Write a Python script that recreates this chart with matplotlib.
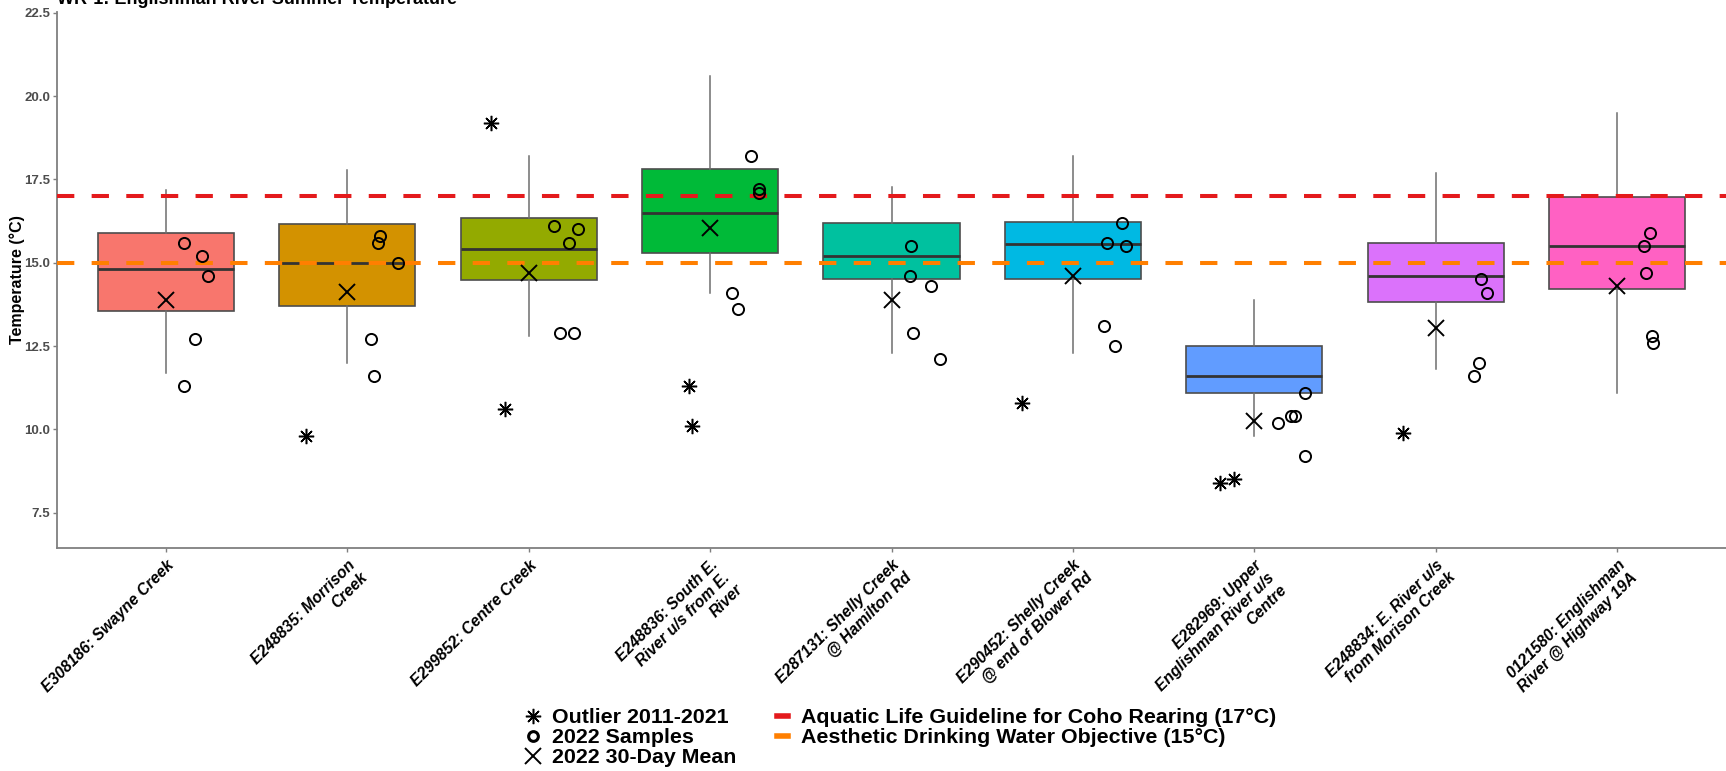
import numpy as np
import matplotlib
import matplotlib.pyplot as plt
from matplotlib.lines import Line2D
matplotlib.use('agg')

plt.rcParams['font.family'] = ['Liberation Sans', 'DejaVu Sans']

# Site labels (x categories)
sites = [
    "E308186: Swayne Creek",
    "E248835: Morrison\nCreek",
    "E299852: Centre Creek",
    "E248836: South E.\nRiver u/s from E.\nRiver",
    "E287131: Shelly Creek\n@ Hamilton Rd",
    "E290452: Shelly Creek\n@ end of Blower Rd",
    "E282969: Upper\nEnglishman River u/s\nCentre",
    "E248834: E. River u/s\nfrom Morison Creek",
    "0121580: Englishman\nRiver @ Highway 19A",
]
box_colors = ["#F8766D", "#D39200", "#93AA00", "#00BA38", "#00C19F",
              "#00B9E3", "#619CFF", "#DB72FB", "#FF61C3"]

# 2011-2021 box statistics
whis_lo = [11.7, 12.0, 12.8, 14.1, 12.3, 12.3, 9.8, 11.8, 11.1]
q1 = [13.55, 13.7, 14.47, 15.3, 14.5, 14.5, 11.1, 13.83, 14.2]
median = [14.8, 15.0, 15.4, 16.5, 15.2, 15.55, 11.6, 14.6, 15.5]
q3 = [15.88, 16.15, 16.35, 17.8, 16.2, 16.23, 12.5, 15.6, 16.98]
whis_hi = [17.18, 17.78, 18.2, 20.6, 17.28, 18.2, 13.88, 17.68, 19.5]

# outliers 2011-2021 and their horizontal jitter
outliers = [[], [9.8], [10.6, 19.2], [11.3, 10.1], [], [10.8], [8.4, 8.5], [9.9], []]
outlier_jitter = [[], [-0.23], [-0.13, -0.21], [-0.115, -0.10], [], [-0.28],
                  [-0.19, -0.11], [-0.18], []]

# 2022 samples and their horizontal jitter
samples = [
    [15.6, 15.2, 14.6, 12.7, 11.3],
    [15.8, 15.6, 15.0, 12.7, 11.6],
    [16.1, 16.0, 15.6, 12.9, 12.9],
    [18.2, 17.2, 17.1, 14.1, 13.6],
    [15.5, 14.6, 14.3, 12.9, 12.1],
    [16.2, 15.6, 15.5, 13.1, 12.5],
    [11.1, 10.4, 10.4, 10.2, 9.2],
    [14.5, 14.1, 12.0, 11.6],
    [15.9, 15.5, 14.7, 12.8, 12.6],
]
sample_jitter = [
    [0.10, 0.20, 0.23, 0.16, 0.10],
    [0.18, 0.17, 0.28, 0.13, 0.15],
    [0.14, 0.27, 0.22, 0.175, 0.25],
    [0.225, 0.27, 0.27, 0.12, 0.155],
    [0.11, 0.10, 0.22, 0.12, 0.27],
    [0.27, 0.19, 0.29, 0.17, 0.23],
    [0.28, 0.20, 0.225, 0.13, 0.28],
    [0.25, 0.28, 0.24, 0.21],
    [0.18, 0.15, 0.16, 0.19, 0.20],
]

# 2022 30-day mean
mean_2022 = [13.87, 14.13, 14.7, 16.04, 13.88, 14.6, 10.26, 13.05, 14.3]

coho_guideline = 17.0
drinking_objective = 15.0
yticks = [7.5, 10.0, 12.5, 15.0, 17.5, 20.0, 22.5]

fig = plt.figure(figsize=(17.26, 7.71), dpi=100)
ax = fig.add_axes([57 / 1726, 0.2896, 1 - 57 / 1726, 0.9844 - 0.2896])

pos = np.arange(1, len(sites) + 1)
stats = []
for i in range(len(sites)):
    stats.append(dict(whislo=whis_lo[i], q1=q1[i], med=median[i], q3=q3[i],
                      whishi=whis_hi[i], fliers=[]))
bp = ax.bxp(stats, positions=pos, widths=0.75, patch_artist=True,
            showcaps=False, showfliers=False,
            boxprops=dict(edgecolor='#4d4d4d', linewidth=1.2),
            whiskerprops=dict(color='#6e6e6e', linewidth=1.1),
            medianprops=dict(color='#333333', linewidth=2.0))
for patch, col in zip(bp['boxes'], box_colors):
    patch.set_facecolor(col)

# guideline lines
ax.axhline(coho_guideline, color='#E41A1C', lw=2.9, ls=(0, (4.3, 4.3)), zorder=4)
ax.axhline(drinking_objective, color='#FF7F00', lw=2.9, ls=(0, (4.3, 4.3)), zorder=4)

asterisk = (8, 2, 0)
for i in range(len(sites)):
    if outliers[i]:
        ax.plot(pos[i] + np.array(outlier_jitter[i]), outliers[i], ls='none',
                marker=asterisk, ms=11, mew=1.1, color='black', zorder=5)
    ax.plot(pos[i] + np.array(sample_jitter[i]), samples[i], ls='none',
            marker='o', ms=8, mfc='none', mec='black', mew=1.4, zorder=5)
ax.plot(pos, mean_2022, ls='none', marker='x', ms=12, mew=1.4,
        color='black', zorder=5)

ax.set_xlim(0.4, len(sites) + 0.6)
ax.set_ylim(6.45, 22.52)
ax.set_yticks(yticks)
ax.set_yticklabels([f"{t:.1f}" for t in yticks], fontsize=9.5,
                   fontweight='bold', color='#4d4d4d')
ax.set_xticks(pos)
ax.set_xticklabels(sites, rotation=45, ha='right', va='top',
                   rotation_mode='anchor', multialignment='right',
                   fontsize=11.3, fontweight='bold', fontstyle='italic')
ax.tick_params(axis='both', colors='#7f7f7f', length=3, width=1)
ax.tick_params(axis='x', labelcolor='black', pad=4)
ax.tick_params(axis='y', labelcolor='#4d4d4d', pad=2)
for side in ['top', 'right']:
    ax.spines[side].set_visible(False)
for side in ['left', 'bottom']:
    ax.spines[side].set_color('#7f7f7f')
    ax.spines[side].set_linewidth(1.3)
ax.set_ylabel("Temperature (°C)", fontsize=11.5, fontweight='bold')
ax.yaxis.set_label_coords(-0.019, 0.5)

fig.text(57 / 1726, 1 - 4 / 771, "WR-1: Englishman River Summer Temperature",
         fontsize=13, fontweight='bold', ha='left', va='baseline')

handles = [
    Line2D([], [], ls='none', marker=asterisk, ms=11, mew=1.1, color='black'),
    Line2D([], [], ls='none', marker='o', ms=7, mfc='none', mec='black', mew=2.2),
    Line2D([], [], ls='none', marker='x', ms=12, mew=1.4, color='black'),
    Line2D([], [], color='#E41A1C', lw=4),
    Line2D([], [], color='#FF7F00', lw=4),
]
labels = ["Outlier 2011-2021", "2022 Samples", "2022 30-Day Mean",
          "Aquatic Life Guideline for Coho Rearing (17°C)",
          "Aesthetic Drinking Water Objective (15°C)"]
fig.legend(handles, labels, ncol=2, loc='upper left',
           bbox_to_anchor=(527 / 1726, 1 - 708 / 771), frameon=False,
           prop=dict(size=15.4, weight='bold'), handlelength=0.55,
           handletextpad=0.6, columnspacing=1.9, labelspacing=0.05,
           borderpad=0, borderaxespad=0)

plt.savefig("out.png", dpi=100)
